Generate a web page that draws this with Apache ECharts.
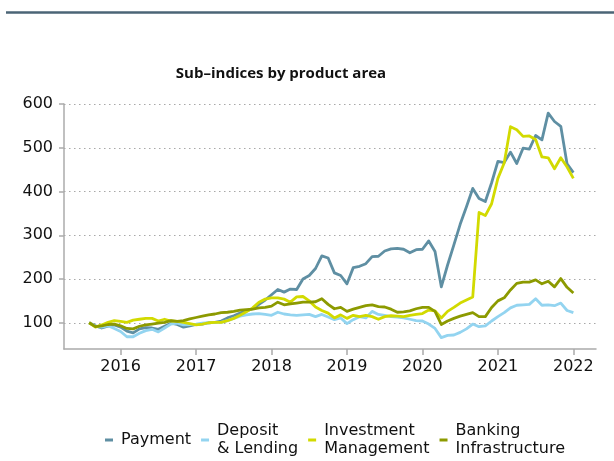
<!DOCTYPE html>
<html>
<head>
<meta charset="utf-8">
<script src="https://cdn.jsdelivr.net/npm/echarts@6/dist/echarts.min.js"></script>
<style>
  html, body { margin: 0; padding: 0; background: #ffffff; }
  #chart { width: 614px; height: 461px; }
</style>
</head>
<body>
<div id="chart"></div>
<script>
// Monthly sub-index levels, Aug 2015 = 100, running Aug 2015 .. Jan 2022
const startYear = 2015;
const startMonth = 8;

const payment = [
  100, 93, 88, 92, 95, 90, 81, 77, 86, 89, 88, 85, 92, 99, 96, 90, 93,
  96, 97, 100, 101, 104, 111, 116, 122, 127, 132, 142, 152,
  164, 176, 170, 177, 176, 200, 208, 224, 253, 248, 214, 208,
  189, 226, 229, 235, 251, 252, 264, 269, 270, 268, 260, 267,
  268, 287, 263, 182, 232, 278, 325, 365, 407, 384, 377, 420,
  469, 466, 490, 464, 499, 497, 528, 518, 579, 560, 549, 463,
  443
];

const depositLending = [
  100, 92, 90, 93, 87, 80, 68, 68, 76, 82, 85, 79, 88, 97, 99, 95, 96,
  97, 99, 100, 101, 101, 105, 110, 115, 118, 120, 121, 119,
  117, 124, 120, 118, 117, 118, 119, 114, 119, 113, 107, 111,
  98, 107, 114, 111, 126, 119, 117, 114, 113, 111, 108, 105,
  104, 97, 87, 66, 71, 72, 78, 86, 97, 91, 93, 104,
  114, 123, 134, 140, 141, 142, 155, 140, 141, 139, 145, 128,
  123
];

const investment = [
  100, 90, 95, 101, 105, 103, 101, 106, 108, 110, 110, 104, 108, 104, 103, 101, 98,
  95, 97, 100, 101, 101, 105, 110, 117, 125, 134, 147, 154,
  157, 157, 154, 147, 159, 160, 150, 136, 128, 122, 111, 118,
  110, 117, 114, 117, 114, 108, 114, 116, 115, 114, 117, 119,
  121, 129, 127, 111, 126, 135, 145, 152, 159, 352, 345, 372,
  430, 465, 548, 541, 526, 527, 519, 479, 477, 452, 477, 456,
  430
];

const banking = [
  100, 91, 93, 96, 97, 93, 87, 86, 92, 95, 97, 99, 101, 105, 103, 105, 109,
  112, 115, 118, 120, 123, 124, 126, 129, 130, 131, 134, 135,
  138, 147, 141, 143, 145, 147, 147, 148, 155, 142, 132, 135,
  126, 131, 135, 139, 141, 137, 136, 131, 124, 125, 127, 132,
  135, 135, 126, 96, 104, 110, 115, 119, 123, 114, 114, 135,
  150, 157, 175, 190, 193, 193, 198, 189, 195, 182, 201, 181,
  168
];

const seriesNames = ['Payment', 'Deposit\n& Lending', 'Investment\nManagement', 'Banking\nInfrastructure'];
const seriesColors = ['#5f8fa3', '#93d4f0', '#d2da00', '#8c9a00'];
const yearTicks = [2016, 2017, 2018, 2019, 2020, 2021, 2022];
const valueTicks = [100, 200, 300, 400, 500, 600];
const chartTitle = 'Sub–indices by product area';

// decimal-year position of each month (January sits on the year tick)
function monthPosition(i) {
  const m = startMonth - 1 + i;
  return startYear + Math.floor(m / 12) + (m % 12) / 12;
}
function toPairs(values) {
  return values.map((v, i) => [monthPosition(i), v]);
}

const FONT = 'DejaVu Sans';
const chart = echarts.init(document.getElementById('chart'), null, { renderer: 'canvas' });

chart.setOption({
  animation: false,
  backgroundColor: '#ffffff',
  textStyle: { fontFamily: FONT },
  graphic: [
    {
      type: 'line',
      shape: { x1: 6, y1: 12.5, x2: 614, y2: 12.5 },
      style: { stroke: '#4b6576', lineWidth: 2.5 }
    },
    {
      type: 'text',
      x: 281,
      y: 74,
      style: {
        text: chartTitle,
        align: 'center',
        verticalAlign: 'middle',
        fontFamily: 'Open Sans',
        fontSize: 15,
        fontWeight: 'bold',
        fill: '#111111'
      }
    }
  ],
  grid: { left: 64, right: 18, top: 104, bottom: 112, containLabel: false },
  xAxis: {
    type: 'value',
    min: 2015.25,
    max: 2022.3,
    axisLine: { show: true, lineStyle: { color: '#ababab', width: 1.5 } },
    axisTick: { show: true, length: 6, customValues: yearTicks, lineStyle: { color: '#ababab', width: 1.5 } },
    axisLabel: {
      customValues: yearTicks,
      margin: 10,
      fontSize: 16,
      color: '#111111',
      fontFamily: FONT,
      formatter: v => String(v)
    },
    splitLine: { show: false }
  },
  yAxis: {
    type: 'value',
    min: 40,
    max: 600,
    interval: 560,
    axisLine: { show: true, lineStyle: { color: '#ababab', width: 1.5 } },
    axisTick: { show: true, inside: false, length: 5, customValues: valueTicks, lineStyle: { color: '#ababab', width: 1.5 } },
    axisLabel: {
      customValues: valueTicks,
      margin: 11,
      fontSize: 16,
      color: '#111111',
      fontFamily: FONT
    },
    splitLine: {
      show: true,
      customValues: valueTicks,
      lineStyle: { color: '#a8a8a8', type: [1.5, 3.5], width: 1.2 }
    }
  },
  legend: {
    left: 100,
    top: 417,
    icon: 'rect',
    itemWidth: 8,
    itemHeight: 3,
    itemGap: 10,
    textStyle: { fontFamily: FONT, fontSize: 16, color: '#111111', lineHeight: 18, padding: [0, 0, 0, 3] },
    data: seriesNames
  },
  series: [payment, depositLending, investment, banking].map((vals, k) => ({
    name: seriesNames[k],
    type: 'line',
    data: toPairs(vals),
    showSymbol: false,
    symbol: 'none',
    color: seriesColors[k],
    lineStyle: { width: 2.8, color: seriesColors[k], join: 'round' },
    z: 2 + k
  }))
});
</script>
</body>
</html>
